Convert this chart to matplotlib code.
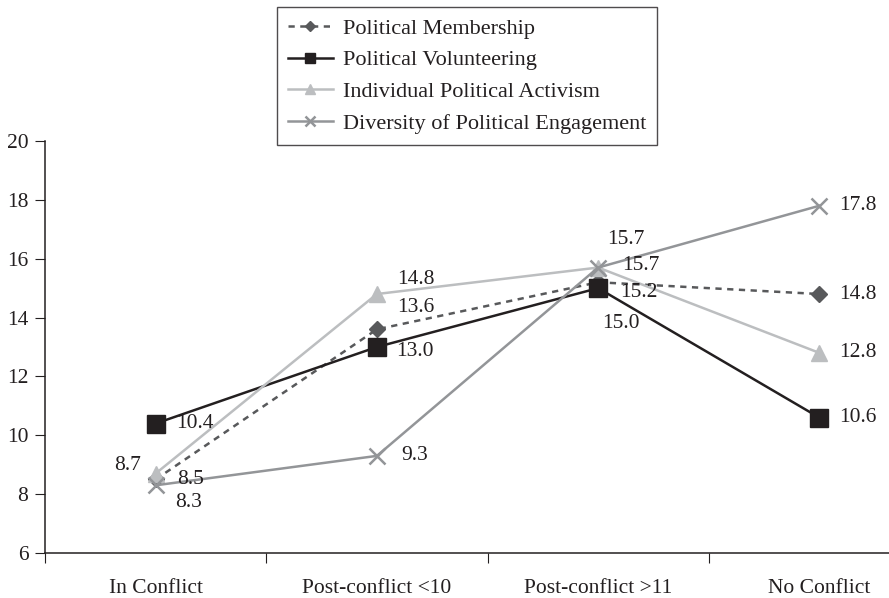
import matplotlib.pyplot as plt

plt.rcParams['font.family'] = ['Liberation Serif', 'DejaVu Serif']

categories = ['In Conflict', 'Post-conflict <10', 'Post-conflict >11', 'No Conflict']
membership = [8.5, 13.6, 15.2, 14.8]
volunteering = [10.4, 13.0, 15.0, 10.6]
activism = [8.7, 14.8, 15.7, 12.8]
diversity = [8.3, 9.3, 15.7, 17.8]

fig = plt.figure(figsize=(8.89, 5.98), dpi=100)
ax = fig.add_axes([45 / 889, 45 / 598, 885 / 889, 412 / 598])

x = list(range(len(categories)))
fs = 15.5

l1, = ax.plot(x, membership, color='#58595b', ls=(0, (2.5, 2.2)), lw=1.8,
              marker='D', ms=8, mec='#58595b', mfc='#58595b', label='Political Membership')
l2, = ax.plot(x, volunteering, color='#231f20', lw=1.8,
              marker='s', ms=13, mfc='#231f20', mec='#231f20', label='Political Volunteering')
l3, = ax.plot(x, activism, color='#bcbec0', lw=1.8,
              marker='^', ms=11, mfc='#bcbec0', mec='#bcbec0', label='Individual Political Activism')
l4, = ax.plot(x, diversity, color='#939598', lw=1.8,
              marker='x', ms=12, mew=1.8, label='Diversity of Political Engagement')

# label offsets in pixels (dx, dy, ha)
off_mem = [(22, 0, 'left'), (20, 22, 'left'), (22, -10, 'left'), (20, 0, 'left')]
off_vol = [(21, 0, 'left'), (19, -4, 'left'), (4, -35, 'left'), (20, 0, 'left')]
off_act = [(-15, 8, 'right'), (20, 15, 'left'), (24, 2, 'left'), (20, 0, 'left')]
off_div = [(20, -17, 'left'), (24, 0, 'left'), (9, 28, 'left'), (20, 0, 'left')]

for vals, offs in [(membership, off_mem), (volunteering, off_vol),
                   (activism, off_act), (diversity, off_div)]:
    for xi, v, (dx, dy, ha) in zip(x, vals, offs):
        ax.annotate(f'{v:.1f}', (xi, v), xytext=(dx, dy), textcoords='offset pixels',
                    ha=ha, va='center', fontsize=fs, color='#231f20')

ax.set_xlim(-0.5, 3.5)
ax.set_ylim(6, 20)
ax.set_yticks(range(6, 21, 2))
ax.set_xticks([i - 0.5 for i in range(5)])
ax.set_xticklabels([])
ax.set_xticks(x, minor=True)
ax.set_xticklabels(categories, minor=True, fontsize=fs, color='#231f20')
ax.tick_params(axis='x', which='minor', length=0, pad=19)
ax.tick_params(axis='x', which='major', length=7, direction='out', color='#231f20')
ax.tick_params(axis='y', length=7, direction='out', labelsize=fs, labelcolor='#231f20', color='#231f20', pad=5)

for s in ['top', 'right']:
    ax.spines[s].set_visible(False)
for s in ['left', 'bottom']:
    ax.spines[s].set_color('#231f20')
    ax.spines[s].set_linewidth(1.1)

leg = fig.legend(handles=[l1, l2, l3, l4], loc='upper left',
                 bbox_to_anchor=(277 / 889, 1 - 7 / 598), fontsize=16,
                 frameon=True, fancybox=False, handlelength=2.0, handletextpad=0.45,
                 borderpad=0.5, labelspacing=0.5, markerscale=0.6, borderaxespad=0)
leg.get_frame().set_edgecolor('#231f20')
leg.get_frame().set_linewidth(1.0)
for t in leg.get_texts():
    t.set_color('#231f20')

fig.savefig('out.png', dpi=100)
